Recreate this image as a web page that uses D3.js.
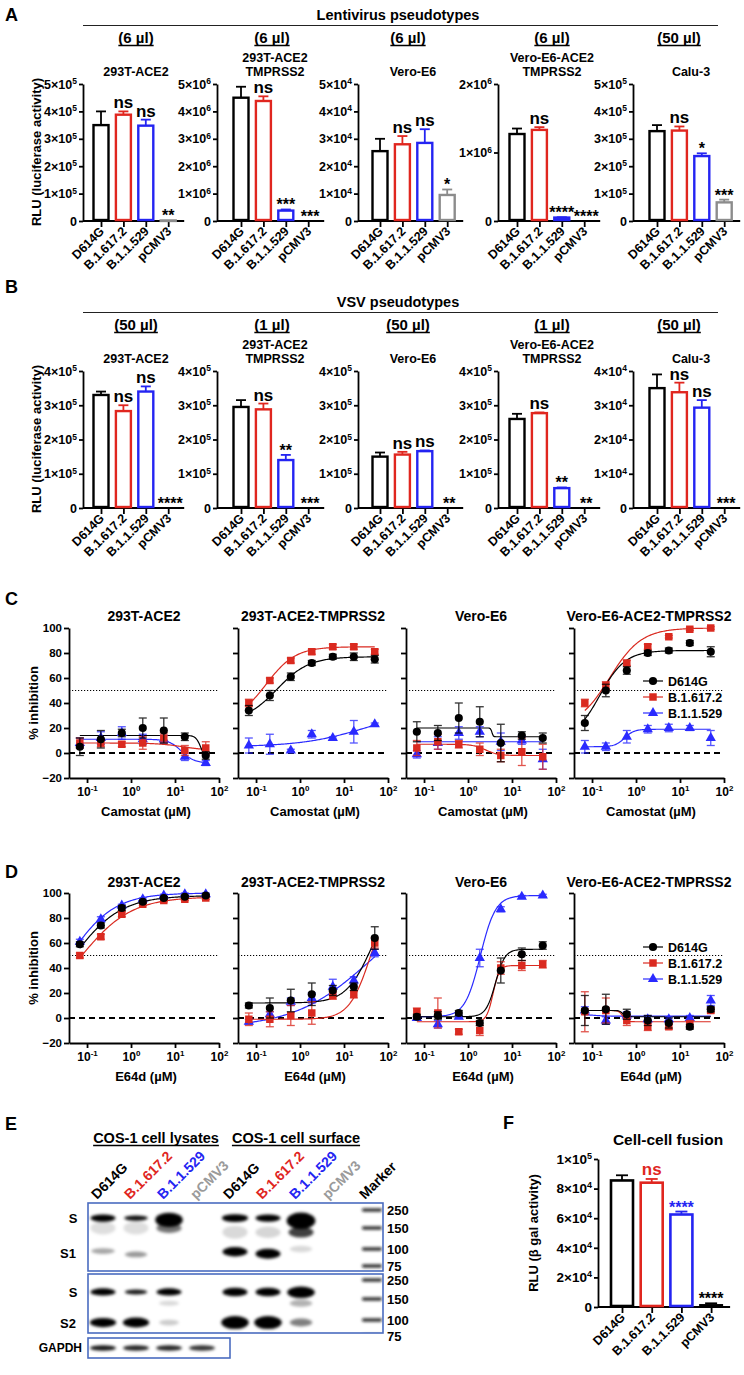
<!DOCTYPE html>
<html><head><meta charset="utf-8">
<script src="https://cdn.jsdelivr.net/npm/d3@7/dist/d3.min.js"></script>
<style>
html,body{margin:0;padding:0;background:#fff;}
svg text{font-family:"Liberation Sans",Arial,Helvetica,sans-serif;font-weight:bold;}
</style></head><body>
<script>
// ================= DATA =================
const categories=["D614G","B.1.617.2","B.1.1.529","pCMV3"];

// Panel A – lentivirus pseudotypes
const lentiCells=[["293T-ACE2"],["293T-ACE2","TMPRSS2"],["Vero-E6"],["Vero-E6-ACE2","TMPRSS2"],["Calu-3"]];
const lentiVolumes=["(6 µl)","(6 µl)","(6 µl)","(6 µl)","(50 µl)"];
const lentiYMax=[5e5,5e6,5e4,2e6,5e5];
const lentiYStep=[1e5,1e6,1e4,1e6,1e5];
const lentiMeans=[[350000,388000,348000,2000],[4500000,4380000,380000,0],[25500,28000,28500,9500],[1270000,1330000,50000,0],[328000,330000,237000,68000]];
const lentiErrors=[[50000,12000,22000,0],[400000,170000,40000,0],[4500,3000,5000,2000],[80000,40000,5000,0],[22000,15000,10000,10000]];
const lentiSig=[["","ns","ns","**"],["","ns","***","***"],["","ns","ns","*"],["","ns","****","****"],["","ns","*","***"]];

// Panel B – VSV pseudotypes
const vsvCells=[["293T-ACE2"],["293T-ACE2","TMPRSS2"],["Vero-E6"],["Vero-E6-ACE2","TMPRSS2"],["Calu-3"]];
const vsvVolumes=["(50 µl)","(1 µl)","(50 µl)","(1 µl)","(50 µl)"];
const vsvYMax=[4e5,4e5,4e5,4e5,4e4];
const vsvYStep=[1e5,1e5,1e5,1e5,1e4];
const vsvMeans=[[330000,283000,340000,0],[295000,288000,140000,0],[150000,156000,166000,0],[260000,277000,58000,0],[35000,33800,29300,0]];
const vsvErrors=[[10000,17000,15000,0],[20000,17000,15000,0],[12000,8000,2000,0],[15000,2000,2000,0],[4000,2800,2200,0]];
const vsvSig=[["","ns","ns","****"],["","ns","**","***"],["","ns","ns","**"],["","ns","**","**"],["","ns","ns","***"]];

// Panels C / D – dose response
const doseSeries=["D614G","B.1.617.2","B.1.1.529"];
const concentrations=[0.0686,0.206,0.617,1.85,5.56,16.7,50];
const doseCells=["293T-ACE2","293T-ACE2-TMPRSS2","Vero-E6","Vero-E6-ACE2-TMPRSS2"];

const camostatMeans=[
  [[5,11,16,20,18,13,-2],[8,8,7,8,12,2,4],[8,12,16,11,11,-3,-8]],
  [[34,46,61,72,77,77,75],[40,58,74,81,85,85,81],[6,7,2,15,12,17,23]],
  [[17,16,28,25,8,14,12],[4,9,7,3,-2,1,-3],[-1,8,16,17,9,10,-5]],
  [[24,50,66,80,82,88,81],[40,54,72,85,93,99,100],[5,5,13,19,20,20,12]]
];
const camostatErrors=[
  [[7,7,3,8,10,3,3],[4,3,2,5,4,4,5],[4,5,5,4,3,3,2]],
  [[4,4,3,2,2,3,3],[3,2,2,2,2,2,2],[6,8,1,3,1,9,1]],
  [[8,6,12,12,15,3,4],[6,6,3,5,5,11,10],[3,5,5,4,7,3,8]],
  [[6,5,3,2,2,2,4],[3,3,2,2,1,1,1],[5,3,5,3,3,2,6]]
];
// 4-parameter logistic fits: [low, high, EC50, hill]
const camostatFits=[
  [[14,-4,38,8],[8,2,15,1.5],[11,-8,14,3]],
  [[25,77,0.3,1.2],[25,85,0.17,1.3],[5,35,30,0.6]],
  [[20,13,3.5,30],[7,-2,2.5,3],[9,9,1,1]],
  [[10,82,0.15,1.5],[20,100,0.25,1.2],[5,19,0.55,4]]
];

const e64dMeans=[
  [[59,74,88,93,96,97,98],[50,65,83,91,94,95,96],[61,79,90,95,98,99,99]],
  [[10,8,14,19,22,25,64],[-1,-1,2,4,18,19,60],[-3,3,13,16,25,30,52]],
  [[1,2,4,-4,38,51,58],[5,4,-11,-10,40,42,43],[0,-5,1,48,87,97,98]],
  [[6,7,3,-2,-4,-7,7],[5,6,-2,-7,-7,-5,6],[6,-2,2,-1,-1,0,14]]
];
const e64dErrors=[
  [[2,2,2,1,1,1,1],[2,2,2,1,1,1,1],[2,2,1,1,1,1,1]],
  [[2,8,9,9,4,3,9],[5,6,8,9,3,3,4],[2,2,3,4,6,3,3]],
  [[2,3,2,2,10,5,3],[3,12,2,4,5,4,3],[1,3,1,7,2,1,1]],
  [[12,12,4,4,4,2,2],[16,10,4,3,2,3,2],[3,3,3,3,2,2,4]]
];
const e64dFits=[
  [[0,98,0.048,0.8],[0,97,0.07,0.75],[0,100,0.04,0.85]],
  [[12,100,42,1.5],[-1,100,40,1.8],[-8,100,40,0.5]],
  [[1,55,4.2,4],[-3,42,3.7,6],[1,98,1.9,2.5]],
  [[6,1,0.5,12],[6,-3,0.5,10],[3,1.5,0.1,3]]
];
const inhibitionTicks=[-20,0,20,40,60,80,100];
const doseTicks=[0.1,1,10,100];

// Panel E – western blot
const blotLanes=["D614G","B.1.617.2","B.1.1.529","pCMV3","D614G","B.1.617.2","B.1.1.529","pCMV3"];
const blotGroups=["COS-1 cell lysates","COS-1 cell surface"];
const markerKDa=[250,150,100,75];
// [lane, kDa, intensity, widthFactor, smear]
const blotS1Bands=[
  [0,150,0.13,1.0,1.8],[1,150,0.13,1.0,1.8],[4,140,0.15,1.0,1.8],[5,140,0.16,1.0,1.6],
  [0,205,1.0,1.0,1.0],[1,205,0.95,0.95,0.75],[2,195,1.0,1.1,2.0],[2,150,0.55,1.0,1.4],
  [4,205,1.0,1.05,1.1],[5,205,1.0,1.0,1.0],[6,190,1.0,1.15,2.3],[6,140,0.75,1.0,1.5],[6,100,0.15,0.9,0.9],
  [0,97,0.35,0.95,0.8],[1,92,0.4,0.9,0.8],[4,96,1.0,1.0,1.3],[5,93,1.0,1.0,1.4]
];
const blotS2Bands=[
  [0,187,1.0,1.0,1.0],[1,187,0.9,0.9,0.7],[2,187,1.0,1.0,1.0],[4,187,1.0,1.0,1.2],[5,187,1.0,1.0,1.2],[6,185,1.0,1.1,1.6],
  [2,140,0.15,0.8,0.7],[6,140,0.3,0.9,1.0],
  [0,96,1.0,1.05,1.3],[1,96,1.0,1.05,1.4],[2,96,0.2,0.8,0.8],[4,96,1.0,1.1,1.8],[5,96,1.0,1.1,1.8],[6,96,0.5,0.9,1.1]
];
const gapdhBands=[[0,0.9],[1,0.85],[2,0.85],[3,0.8]];

// Panel F – cell-cell fusion
const fusionMeans=[85500,84000,62500,2000];
const fusionErrors=[3500,2500,2000,500];
const fusionSig=["","ns","****","****"];
const fusionYTicks=[0,2e4,4e4,6e4,8e4,1e5];

// ================= STYLE / LAYOUT =================
const catColors=["#000000","#e0261f","#2424f2","#8c8c8c"];
const doseColors=["#000000","#da2a20","#2a2aff"];
const fusionBarColors=["#000000","#e0261f","#2424f2","#000000"];
const fusionSigColors=["#000000","#e0261f","#2424f2","#000000"];
const laneColors=["#000000","#e0261f","#2424f2","#9a9a9a","#000000","#e0261f","#2424f2","#9a9a9a"];

const svg=d3.select("body").append("svg").attr("width",744).attr("height",1375);
const defs=svg.append("defs");
defs.append("filter").attr("id","blur").attr("x","-50%").attr("y","-50%").attr("width","200%").attr("height","200%")
  .append("feGaussianBlur").attr("stdDeviation",1.6);

function sciText(sel,v,sfs,rise){
  sel.text(null);
  if(v===0){sel.text("0");return;}
  const e=Math.floor(Math.log10(v)+1e-9);
  const m=Math.round(v/Math.pow(10,e));
  sel.append("tspan").text(m+"×10");
  sel.append("tspan").attr("font-size",sfs).attr("dy",-rise).text(e);
}
function styleAxis(ax,lw,fs){
  ax.attr("font-family",null).attr("font-size",fs);
  ax.selectAll("path.domain").attr("stroke","#000").attr("stroke-width",lw);
  ax.selectAll(".tick line").attr("stroke","#000").attr("stroke-width",lw);
  ax.selectAll(".tick text").attr("fill","#000");
}
function letter(t,x,y){svg.append("text").attr("x",x).attr("y",y).attr("font-size",18).text(t);}
function underlined(x,y,txt,fs,col){
  const t=svg.append("text").attr("x",x).attr("y",y).attr("text-anchor","middle").attr("font-size",fs).attr("fill",col||"#000").text(txt);
  const w=t.node().getComputedTextLength();
  svg.append("line").attr("x1",x-w/2).attr("x2",x+w/2).attr("y1",y+2.5).attr("y2",y+2.5).attr("stroke",col||"#000").attr("stroke-width",1.4);
}

// ---------- Panels A & B ----------
const barAxisX=[83,217,358,498,633];
const barFirstOff=[18,24,22,19,24];
const barGap=22.4;
const volX=[136,272,408,552,679];
const cellX=[136,275,413,552,691];

function drawBarRow(dy,title,cells,volumes,yMax,yStep,means,errors,sig){
  svg.append("text").attr("x",398).attr("y",20+dy).attr("text-anchor","middle").attr("font-size",14.5).text(title);
  svg.append("line").attr("x1",83).attr("x2",718).attr("y1",25.5+dy).attr("y2",25.5+dy).attr("stroke","#222").attr("stroke-width",1.2);
  svg.append("text").attr("transform",`translate(41,${152+dy}) rotate(-90)`).attr("text-anchor","middle").attr("font-size",13).text("RLU (luciferase activity)");
  const top=84+dy, zero=221+dy;
  for(let p=0;p<5;p++){
    const x0=barAxisX[p];
    underlined(volX[p],43+dy,volumes[p],15);
    const lines=cells[p];
    lines.forEach((ln,k)=>{
      svg.append("text").attr("x",cellX[p]).attr("y",76+dy-(lines.length-1-k)*14).attr("text-anchor","middle").attr("font-size",12.5).text(ln);
    });
    const y=d3.scaleLinear().domain([0,yMax[p]]).range([zero,top]);
    const x=d3.scalePoint().domain(categories).range([x0+barFirstOff[p],x0+barFirstOff[p]+3*barGap]);
    const g=svg.append("g");
    const yAx=g.append("g").attr("transform",`translate(${x0},0)`)
      .call(d3.axisLeft(y).tickValues(d3.range(0,yMax[p]*1.0001,yStep[p])).tickSize(4).tickSizeOuter(0).tickPadding(2));
    styleAxis(yAx,1.8,12.5);
    yAx.selectAll(".tick text").each(function(d){sciText(d3.select(this),d,8.5,4.5);});
    const xAx=g.append("g").attr("transform",`translate(0,${zero})`).call(d3.axisBottom(x).tickSize(6).tickFormat(""));
    xAx.select(".domain").remove();
    styleAxis(xAx,1.8,11);
    g.append("line").attr("x1",x0).attr("x2",x(categories[3])+16).attr("y1",zero).attr("y2",zero).attr("stroke","#000").attr("stroke-width",1.8);
    categories.forEach((c,i)=>{
      g.append("text").attr("transform",`translate(${x(c)+4},${zero+11}) rotate(-45)`).attr("text-anchor","end").attr("font-size",12.5).text(c);
      const m=means[p][i], e=errors[p][i], col=catColors[i];
      if(m>0){
        const bw=15;
        g.append("rect").attr("x",x(c)-bw/2).attr("y",y(m)).attr("width",bw).attr("height",Math.max(zero-y(m)-1,0.5))
          .attr("fill","#fff").attr("stroke",col).attr("stroke-width",2.4);
        if(e>0){
          g.append("line").attr("x1",x(c)).attr("x2",x(c)).attr("y1",y(m)).attr("y2",y(m+e)).attr("stroke",col).attr("stroke-width",1.8);
          g.append("line").attr("x1",x(c)-5).attr("x2",x(c)+5).attr("y1",y(m+e)).attr("y2",y(m+e)).attr("stroke",col).attr("stroke-width",1.8);
        }
      }
      const s=sig[p][i];
      if(s){
        const eTop=y(m+e);
        if(s==="ns") g.append("text").attr("x",x(c)).attr("y",eTop-3).attr("text-anchor","middle").attr("font-size",17).text(s);
        else g.append("text").attr("x",x(c)+(m>0?0:2)).attr("y",eTop+1).attr("text-anchor","middle").attr("font-size",16).text(s);
      }
    });
  }
}
letter("A",5,21);
drawBarRow(0,"Lentivirus pseudotypes",lentiCells,lentiVolumes,lentiYMax,lentiYStep,lentiMeans,lentiErrors,lentiSig);
letter("B",5,293);
drawBarRow(287,"VSV pseudotypes",vsvCells,vsvVolumes,vsvYMax,vsvYStep,vsvMeans,vsvErrors,vsvSig);

// ---------- Panels C & D ----------
const doseX0=[69,238,406,574];
const symbols=[d3.symbolCircle,d3.symbolSquare,d3.symbolTriangle];
const symSizes=[52,56,46];
function logistic(x,f){return f[0]+(f[1]-f[0])/(1+Math.pow(f[2]/x,f[3]));}

function drawDoseRow(yB,titleY,xlabel,means,errors,fits,legendY){
  svg.append("text").attr("transform",`translate(37.5,${yB-75}) rotate(-90)`).attr("text-anchor","middle").attr("font-size",13).text("% inhibition");
  for(let p=0;p<4;p++){
    const x0=doseX0[p];
    const x=d3.scaleLog().domain([Math.pow(10,-1.41),100]).range([x0,x0+150]);
    const y=d3.scaleLinear().domain([-20,100]).range([yB,yB-150]);
    const g=svg.append("g");
    svg.append("text").attr("x",x0+75).attr("y",titleY).attr("text-anchor","middle").attr("font-size",14).text(doseCells[p]);
    const yAx=g.append("g").attr("transform",`translate(${x0},0)`)
      .call(d3.axisLeft(y).tickValues(inhibitionTicks).tickSize(5).tickSizeOuter(0).tickPadding(2).tickFormat(p===0?d3.format("d"):""));
    styleAxis(yAx,1.8,11.5);
    const xAx=g.append("g").attr("transform",`translate(0,${yB})`)
      .call(d3.axisBottom(x).tickValues(doseTicks).tickSize(5).tickSizeOuter(0).tickPadding(4));
    styleAxis(xAx,1.8,12);
    xAx.selectAll(".tick text").each(function(d){
      const t=d3.select(this).text(null);
      const e=Math.round(Math.log10(d));
      t.append("tspan").text("10");
      t.append("tspan").attr("font-size",8).attr("dy",-5).text(e);
    });
    g.append("text").attr("x",x0+77).attr("y",yB+38).attr("text-anchor","middle").attr("font-size",13).text(xlabel);
    // reference lines
    g.append("line").attr("x1",x0).attr("x2",x0+150).attr("y1",y(50)).attr("y2",y(50)).attr("stroke","#000").attr("stroke-width",1).attr("stroke-dasharray","1.2,1.8");
    g.append("line").attr("x1",x0).attr("x2",x0+150).attr("y1",y(0)).attr("y2",y(0)).attr("stroke","#000").attr("stroke-width",2).attr("stroke-dasharray","6,4");
    const xs=d3.range(0,121).map(i=>Math.pow(10,Math.log10(concentrations[0])+i*(Math.log10(concentrations[6])-Math.log10(concentrations[0]))/120));
    const line=d3.line().x(d=>x(d[0])).y(d=>y(d[1]));
    for(let s=2;s>=0;s--){
      g.append("path").attr("d",line(xs.map(c=>[c,logistic(c,fits[p][s])]))).attr("fill","none").attr("stroke",doseColors[s]).attr("stroke-width",1.2);
    }
    for(let s=2;s>=0;s--){
      const col=doseColors[s];
      concentrations.forEach((c,i)=>{
        const m=means[p][s][i], e=errors[p][s][i], cx=x(c);
        const eg=g.append("g").attr("stroke",col).attr("stroke-width",1.3).attr("opacity",0.8);
        eg.append("line").attr("x1",cx).attr("x2",cx).attr("y1",y(m-e)).attr("y2",y(m+e));
        eg.append("line").attr("x1",cx-4).attr("x2",cx+4).attr("y1",y(m-e)).attr("y2",y(m-e));
        eg.append("line").attr("x1",cx-4).attr("x2",cx+4).attr("y1",y(m+e)).attr("y2",y(m+e));
        g.append("path").attr("d",d3.symbol().type(symbols[s]).size(symSizes[s])()).attr("transform",`translate(${cx},${y(m)})`).attr("fill",col);
      });
    }
    if(p===3){
      doseSeries.forEach((nm,s)=>{
        const ly=legendY+s*16, lx=x0+69;
        g.append("line").attr("x1",lx).attr("x2",lx+20).attr("y1",ly).attr("y2",ly).attr("stroke",doseColors[s]).attr("stroke-width",1.2);
        g.append("path").attr("d",d3.symbol().type(symbols[s]).size(symSizes[s])()).attr("transform",`translate(${lx+10},${ly})`).attr("fill",doseColors[s]);
        g.append("text").attr("x",lx+25).attr("y",ly+4.5).attr("font-size",12.5).text(nm);
      });
    }
  }
}
letter("C",5,605);
drawDoseRow(778,621,"Camostat (µM)",camostatMeans,camostatErrors,camostatFits,681);
letter("D",5,878);
drawDoseRow(1043,887,"E64d (µM)",e64dMeans,e64dErrors,e64dFits,947);

// ---------- Panel E ----------
letter("E",5,1130);
underlined(156,1143,blotGroups[0],14.5);
underlined(296,1143,blotGroups[1],14.5);
const laneX=d3.scalePoint().domain(d3.range(8)).range([103,334]);
const markerX=372;
blotLanes.forEach((nm,i)=>{
  svg.append("text").attr("transform",`translate(${laneX(i)-6},1200) rotate(-45)`).attr("font-size",14).attr("fill",laneColors[i]).text(nm);
});
svg.append("text").attr("transform",`translate(${markerX-7},1200) rotate(-45)`).attr("font-size",14).text("Marker");

function drawBlot(yTop,h,w,yRange,bands,labels,withMarker){
  const ys=d3.scaleLinear().domain(markerKDa).range(yRange);
  const clipId="clip"+yTop;
  defs.append("clipPath").attr("id",clipId).append("rect").attr("x",88).attr("y",yTop).attr("width",w).attr("height",h);
  const g=svg.append("g").attr("clip-path",`url(#${clipId})`);
  const bg=g.append("g").attr("filter","url(#blur)");
  bands.forEach(b=>{
    bg.append("ellipse").attr("cx",laneX(b[0])).attr("cy",ys(b[1])).attr("rx",12.5*b[3]).attr("ry",3.6*b[4]).attr("fill","#000").attr("opacity",b[2]);
  });
  if(withMarker){
    markerKDa.forEach(k=>{
      bg.append("rect").attr("x",markerX-10).attr("y",ys(k)-1.4).attr("width",20).attr("height",2.8).attr("rx",1.4).attr("fill","#111");
      svg.append("text").attr("x",markerX+15).attr("y",ys(k)+5).attr("font-size",13).text(k);
    });
  }
  svg.append("rect").attr("x",88).attr("y",yTop).attr("width",w).attr("height",h).attr("fill","none").attr("stroke","#4a6cc0").attr("stroke-width",1.6);
  labels.forEach(l=>svg.append("text").attr("x",l[1]).attr("y",ys(l[2])+5).attr("text-anchor","middle").attr("font-size",13).text(l[0]));
}
drawBlot(1203,68,295,[1210,1228,1249,1266],blotS1Bands,[["S",73,205],["S1",68,94]],true);
drawBlot(1274,59,295,[1280,1299,1320,1336],blotS2Bands,[["S",73,187],["S2",68,96]],true);
// GAPDH
(function(){
  defs.append("clipPath").attr("id","clipG").append("rect").attr("x",88).attr("y",1338).attr("width",142).attr("height",20);
  const g=svg.append("g").attr("clip-path","url(#clipG)").append("g").attr("filter","url(#blur)");
  gapdhBands.forEach(b=>g.append("ellipse").attr("cx",laneX(b[0])).attr("cy",1348).attr("rx",13).attr("ry",2.8).attr("fill","#000").attr("opacity",b[1]));
  svg.append("rect").attr("x",88).attr("y",1338).attr("width",142).attr("height",20).attr("fill","none").attr("stroke","#4a6cc0").attr("stroke-width",1.6);
  svg.append("text").attr("x",82).attr("y",1352).attr("text-anchor","end").attr("font-size",12).text("GAPDH");
})();

// ---------- Panel F ----------
letter("F",503,1129);
svg.append("text").attr("x",668).attr("y",1145).attr("text-anchor","middle").attr("font-size",15.5).text("Cell-cell fusion");
(function(){
  const x0=598, zero=1307, top=1159;
  const y=d3.scaleLinear().domain([0,1e5]).range([zero,top]);
  const x=d3.scalePoint().domain(categories).range([x0+24,x0+24+3*29.7]);
  const g=svg.append("g");
  svg.append("text").attr("transform",`translate(538,1233) rotate(-90)`).attr("text-anchor","middle").attr("font-size",13).text("RLU (β gal activity)");
  const yAx=g.append("g").attr("transform",`translate(${x0},0)`).call(d3.axisLeft(y).tickValues(fusionYTicks).tickSize(4).tickSizeOuter(0).tickPadding(2));
  styleAxis(yAx,1.8,13.5);
  yAx.selectAll(".tick text").each(function(d){sciText(d3.select(this),d,9,5);});
  const xAx=g.append("g").attr("transform",`translate(0,${zero})`).call(d3.axisBottom(x).tickSize(6).tickFormat(""));
  xAx.select(".domain").remove();
  styleAxis(xAx,1.8,12);
  g.append("line").attr("x1",x0).attr("x2",x(categories[3])+19).attr("y1",zero).attr("y2",zero).attr("stroke","#000").attr("stroke-width",1.8);
  categories.forEach((c,i)=>{
    g.append("text").attr("transform",`translate(${x(c)+4},${zero+11}) rotate(-45)`).attr("text-anchor","end").attr("font-size",12.5).text(c);
    const m=fusionMeans[i], e=fusionErrors[i], col=fusionBarColors[i], bw=22;
    if(i<3){
      g.append("rect").attr("x",x(c)-bw/2).attr("y",y(m)).attr("width",bw).attr("height",zero-y(m)-1).attr("fill","#fff").attr("stroke",col).attr("stroke-width",2.6);
    } else {
      g.append("rect").attr("x",x(c)-bw/2-1).attr("y",y(m)).attr("width",bw+2).attr("height",zero-y(m)).attr("fill",col);
    }
    g.append("line").attr("x1",x(c)).attr("x2",x(c)).attr("y1",y(m)).attr("y2",y(m+e)).attr("stroke",col).attr("stroke-width",1.8);
    g.append("line").attr("x1",x(c)-6).attr("x2",x(c)+6).attr("y1",y(m+e)).attr("y2",y(m+e)).attr("stroke",col).attr("stroke-width",1.8);
    const s=fusionSig[i];
    if(s){
      const eTop=y(m+e);
      if(s==="ns") g.append("text").attr("x",x(c)).attr("y",eTop-4).attr("text-anchor","middle").attr("font-size",17).attr("fill",fusionSigColors[i]).text(s);
      else g.append("text").attr("x",x(c)).attr("y",eTop+1).attr("text-anchor","middle").attr("font-size",16).attr("fill",fusionSigColors[i]).text(s);
    }
  });
})();
</script>
</body></html>
